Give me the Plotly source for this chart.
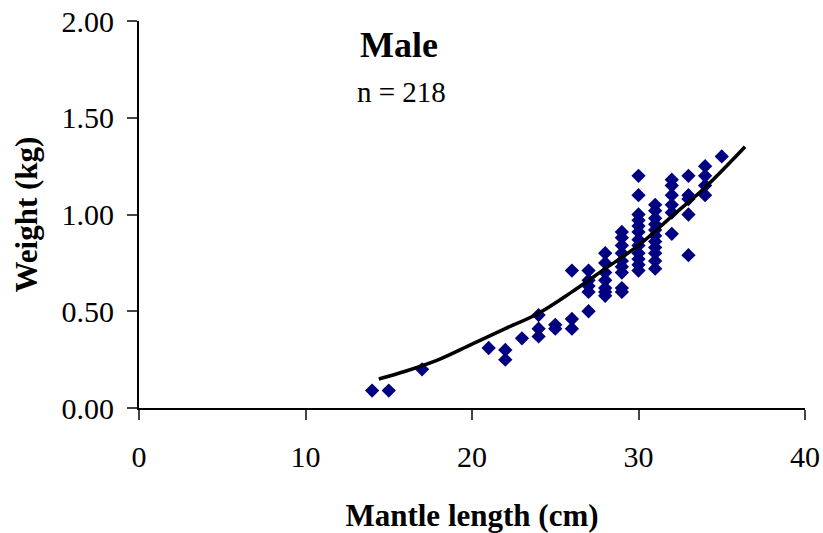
import plotly.graph_objects as go

# Observed data (mantle length cm, weight kg)
length_cm = [14, 15, 17, 21, 22, 22, 23, 24, 24, 24, 25, 25, 26, 26, 26,
             27, 27, 27, 27, 27,
             28, 28, 28, 28, 28, 28, 28,
             29, 29, 29, 29, 29, 29, 29, 29, 29,
             30, 30, 30, 30, 30, 30, 30, 30, 30, 30, 30, 30,
             31, 31, 31, 31, 31, 31, 31, 31, 31, 31, 31,
             32, 32, 32, 32, 32, 32,
             33, 33, 33, 33, 33,
             34, 34, 34, 34,
             35]
weight_kg = [0.09, 0.09, 0.20, 0.31, 0.30, 0.25, 0.36, 0.48, 0.41, 0.37, 0.41, 0.43, 0.46, 0.41, 0.71,
             0.50, 0.60, 0.63, 0.66, 0.71,
             0.80, 0.75, 0.70, 0.66, 0.62, 0.60, 0.58,
             0.91, 0.88, 0.84, 0.80, 0.76, 0.73, 0.70, 0.62, 0.60,
             1.20, 1.10, 1.00, 0.97, 0.94, 0.91, 0.87, 0.84, 0.80, 0.77, 0.74, 0.71,
             1.05, 1.02, 0.98, 0.95, 0.92, 0.89, 0.86, 0.83, 0.80, 0.76, 0.72,
             1.18, 1.15, 1.10, 1.05, 1.01, 0.90,
             1.20, 1.10, 1.08, 1.00, 0.79,
             1.25, 1.20, 1.15, 1.10,
             1.30]

# Trend curve
curve_len = [14.4, 16, 18, 20, 22, 24, 26, 28, 30, 32, 34, 36.4]
curve_wt = [0.15, 0.19, 0.25, 0.33, 0.41, 0.49, 0.60, 0.72, 0.84, 0.99, 1.14, 1.35]

x_ticks = [0, 10, 20, 30, 40]
y_ticks = [0.0, 0.5, 1.0, 1.5, 2.0]

serif = "Liberation Serif, Times New Roman, serif"

W, H = 823, 533
L, R, T, B = 139, 18, 21, 125

fig = go.Figure()
fig.add_trace(go.Scatter(x=length_cm, y=weight_kg, mode="markers",
                         marker=dict(symbol="diamond", size=11, color="#000080"),
                         showlegend=False))
fig.add_trace(go.Scatter(x=curve_len, y=curve_wt, mode="lines",
                         line=dict(color="black", width=3.5, shape="spline"),
                         showlegend=False))

pw, ph = W - L - R, H - T - B


def px_to_paper(px, py):
    return (px - L) / pw, (H - B - py) / ph


ax1, ay1 = px_to_paper(399, 45)
ax2, ay2 = px_to_paper(401, 92)

fig.update_layout(
    width=W, height=H,
    margin=dict(l=L, r=R, t=T, b=B),
    paper_bgcolor="white", plot_bgcolor="white",
    font=dict(family=serif, color="black", size=30),
    xaxis=dict(range=[0, 40], tickvals=x_ticks, ticks="outside", ticklen=10,
               tickwidth=2, showline=True, linecolor="black", linewidth=2,
               showgrid=False, zeroline=False, ticklabelstandoff=11,
               ticklabeloverflow="allow", automargin=False,
               tickfont=dict(size=30, family=serif),
               title=dict(text="<b>Mantle length (cm)</b>", standoff=34,
                          font=dict(size=31, family=serif))),
    yaxis=dict(range=[0, 2], tickvals=y_ticks, tickformat=".2f", ticks="outside",
               ticklen=10, tickwidth=2, showline=True, linecolor="black",
               linewidth=2, showgrid=False, zeroline=False,
               ticklabelstandoff=7, ticklabeloverflow="allow", automargin=False,
               tickfont=dict(size=30, family=serif),
               title=dict(text="<b>Weight (kg)</b>", standoff=15,
                          font=dict(size=31, family=serif))),
    annotations=[
        dict(text="<b>Male</b>", x=ax1, y=ay1, xref="paper", yref="paper",
             xanchor="center", yanchor="middle",
             showarrow=False, font=dict(size=36, family=serif)),
        dict(text="n = 218", x=ax2, y=ay2, xref="paper", yref="paper",
             xanchor="center", yanchor="middle",
             showarrow=False, font=dict(size=29, family=serif)),
    ],
)

fig.write_html("out.html", config={"displayModeBar": False},
               post_script="document.body.style.margin='0';document.body.style.overflow='hidden';")
